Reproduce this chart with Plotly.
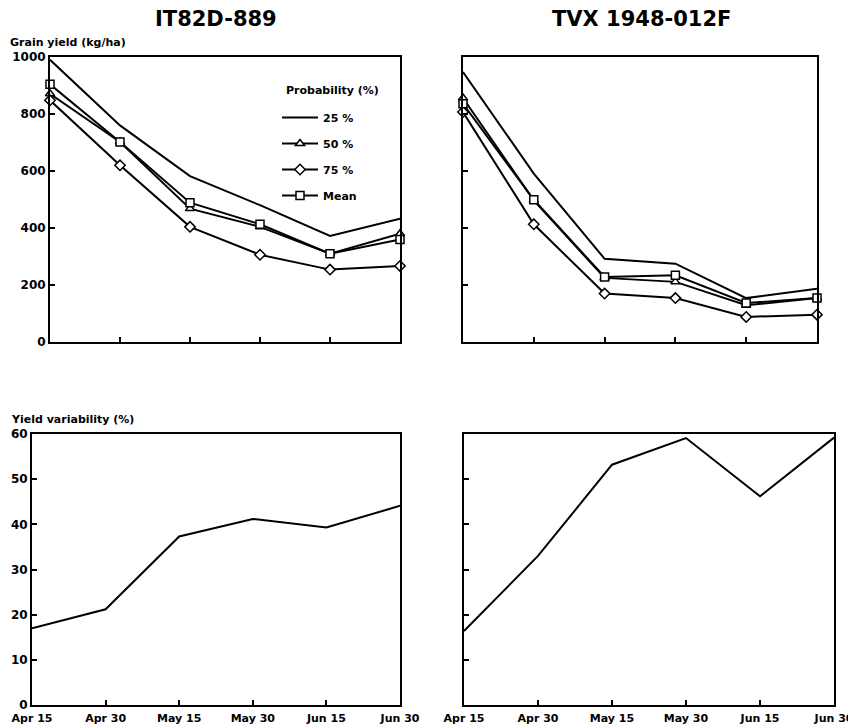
import plotly.graph_objects as go

# page is shown with an 8px body margin; figure placed so that page pixels line up
OFF = 8
W, H = 856 - OFF, 728 - OFF

dates = ["Apr 15", "Apr 30", "May 15", "May 30", "Jun 15", "Jun 30"]

# IT82D-889 grain yield (kg/ha)
it_p25 = [990, 760, 582, 480, 372, 433]
it_p50 = [871, 702, 468, 404, 310, 380]
it_p75 = [848, 620, 404, 306, 254, 267]
it_mean = [904, 702, 489, 413, 310, 360]

# TVX 1948-012F grain yield (kg/ha)
tvx_p25 = [947, 591, 292, 275, 154, 187]
tvx_p50 = [856, 497, 225, 211, 129, 154]
tvx_p75 = [807, 413, 170, 154, 88, 96]
tvx_mean = [836, 499, 228, 234, 137, 154]

# Yield variability (%)
it_var = [17.0, 21.2, 37.3, 41.2, 39.3, 44.1]
tvx_var = [16.4, 33.0, 53.2, 59.1, 46.2, 59.2]

yield_ticks = [0, 200, 400, 600, 800, 1000]
var_ticks = [0, 10, 20, 30, 40, 50, 60]

legend_names = ["25 %", "50 %", "75 %", "Mean"]
symbols = [None, "triangle-up", "diamond", "square"]

FONT = "DejaVu Sans"

def px_x(p):
    return (p - OFF) / W

def px_y(p):
    return 1 - (p - OFF) / H

fig = go.Figure()

def add_yield(series, xa, ya, show):
    for name, sym, vals in zip(legend_names, symbols, series):
        mode = "lines" if sym is None else "lines+markers"
        fig.add_trace(go.Scatter(
            x=dates, y=vals, mode=mode, name=name,
            xaxis=xa, yaxis=ya, showlegend=show, legendgroup=name,
            line=dict(color="black", width=2),
            marker=dict(symbol=sym if sym else "circle", size=8,
                        color="white", line=dict(color="black", width=1.5)),
            cliponaxis=False,
        ))

add_yield([it_p25, it_p50, it_p75, it_mean], "x", "y", True)
add_yield([tvx_p25, tvx_p50, tvx_p75, tvx_mean], "x2", "y2", False)

fig.add_trace(go.Scatter(x=dates, y=it_var, mode="lines", xaxis="x3", yaxis="y3",
                         showlegend=False, line=dict(color="black", width=2)))
fig.add_trace(go.Scatter(x=dates, y=tvx_var, mode="lines", xaxis="x4", yaxis="y4",
                         showlegend=False, line=dict(color="black", width=2),
                         cliponaxis=False))

tickfont = dict(family=FONT, size=12, color="black", weight="bold")
xtickfont = dict(family=FONT, size=11, color="black", weight="bold")

def xaxis(domain, anchor, labels):
    return dict(domain=domain, anchor=anchor, type="category", range=[0, 5],
                showline=True, mirror=True, linecolor="black", linewidth=2,
                ticks="inside", ticklen=5, tickcolor="black", tickwidth=1.5,
                showticklabels=labels, tickfont=xtickfont, showgrid=False,
                zeroline=False, fixedrange=True, automargin=False,
                ticklabelstandoff=2)

def yaxis(domain, anchor, rng, tv, labels):
    return dict(domain=domain, anchor=anchor, range=rng, tickvals=tv,
                showline=True, mirror=True, linecolor="black", linewidth=2,
                ticks="inside", ticklen=5, tickcolor="black", tickwidth=1.5,
                showticklabels=labels, tickfont=tickfont, showgrid=False,
                zeroline=False, ticklabelstandoff=0, automargin=False)

top_y = [px_y(342), px_y(57)]
bot_y = [px_y(705), px_y(434)]

fig.update_layout(
    width=W, height=H,
    margin=dict(l=0, r=0, t=0, b=0, autoexpand=False),
    paper_bgcolor="white", plot_bgcolor="white",
    font=dict(family=FONT, color="black"),
    xaxis=xaxis([px_x(50), px_x(400)], "y", False),
    yaxis=yaxis(top_y, "x", [0, 1000], yield_ticks, True),
    xaxis2=xaxis([px_x(463), px_x(817)], "y2", False),
    yaxis2=yaxis(top_y, "x2", [0, 1000], yield_ticks, False),
    xaxis3=xaxis([px_x(32), px_x(400)], "y3", True),
    yaxis3=yaxis(bot_y, "x3", [0, 60], var_ticks, True),
    xaxis4=xaxis([px_x(464), px_x(834)], "y4", True),
    yaxis4=yaxis(bot_y, "x4", [0, 60], var_ticks, False),
    showlegend=True,
    legend=dict(
        x=px_x(277), y=px_y(103), xanchor="left", yanchor="top",
        bgcolor="rgba(0,0,0,0)", borderwidth=0,
        font=dict(family=FONT, size=11, color="black", weight="bold"),
        tracegroupgap=7, itemwidth=36,
    ),
    annotations=[
        dict(text="IT82D-889", x=px_x(216), y=px_y(19), xref="paper", yref="paper",
             showarrow=False, xanchor="center", yanchor="middle",
             font=dict(family=FONT, size=21, color="black", weight="bold")),
        dict(text="TVX 1948-012F", x=px_x(641), y=px_y(19), xref="paper", yref="paper",
             showarrow=False, xanchor="center", yanchor="middle",
             font=dict(family=FONT, size=21, color="black", weight="bold")),
        dict(text="Grain yield (kg/ha)", x=px_x(8), y=px_y(42), xref="paper", yref="paper",
             showarrow=False, xanchor="left", yanchor="middle",
             font=dict(family=FONT, size=11, color="black", weight="bold")),
        dict(text="Yield variability (%)", x=px_x(9), y=px_y(419), xref="paper", yref="paper",
             showarrow=False, xanchor="left", yanchor="middle",
             font=dict(family=FONT, size=11, color="black", weight="bold")),
        dict(text="Probability (%)", x=px_x(284), y=px_y(90), xref="paper", yref="paper",
             showarrow=False, xanchor="left", yanchor="middle",
             font=dict(family=FONT, size=11, color="black", weight="bold")),
    ],
)

fig.write_html("out.html")
